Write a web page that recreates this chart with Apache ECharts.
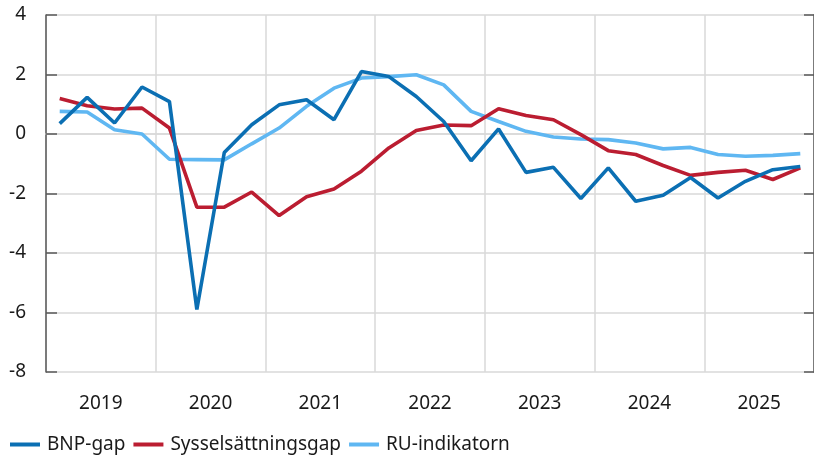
<!DOCTYPE html>
<html>
<head>
<meta charset="utf-8">
<script src="https://cdn.jsdelivr.net/npm/echarts@6/dist/echarts.min.js"></script>
<style>
  html, body { margin: 0; padding: 0; background: #fff; }
  #chart { width: 814px; height: 458px; }
</style>
</head>
<body>
<div id="chart"></div>
<script>
// years on the axis, quarters for the data
const years = ['2019', '2020', '2021', '2022', '2023', '2024', '2025'];
const quarters = [];
years.forEach(y => { for (let q = 1; q <= 4; q++) quarters.push(y + 'K' + q); });

const bnpGap = [0.35, 1.23, 0.37, 1.58, 1.09, -5.9, -0.62, 0.31, 0.98, 1.15, 0.48, 2.1,
  1.93, 1.26, 0.42, -0.9, 0.17, -1.29, -1.12, -2.17, -1.14, -2.26, -2.06, -1.46,
  -2.15, -1.59, -1.2, -1.09];
const sysselGap = [1.19, 0.95, 0.84, 0.87, 0.2, -2.46, -2.46, -1.95, -2.74, -2.11, -1.85, -1.25,
  -0.47, 0.12, 0.3, 0.28, 0.85, 0.62, 0.48, -0.02, -0.56, -0.69, -1.06, -1.39,
  -1.29, -1.22, -1.53, -1.14];
const ruIndikator = [0.76, 0.74, 0.14, 0.0, -0.85, -0.86, -0.87, -0.33, 0.2, 0.93, 1.54, 1.88,
  1.93, 1.99, 1.65, 0.76, 0.42, 0.09, -0.1, -0.17, -0.19, -0.3, -0.5, -0.45,
  -0.69, -0.75, -0.72, -0.66];

const yTicks = [-8, -6, -4, -2, 0, 2, 4];

const font = '"Noto Sans", sans-serif';
const textColor = '#1a1a1a';
const gridColor = '#d9d9d9';
const axisColor = '#595959';

const chart = echarts.init(document.getElementById('chart'));
chart.setOption({
  animation: false,
  textStyle: { fontFamily: font },
  grid: { left: 46, right: -4, top: 15, bottom: 86 },
  legend: {
    left: 10,
    top: 435,
    padding: 0,
    icon: 'rect',
    itemWidth: 30,
    itemHeight: 4,
    itemGap: 8,
    textStyle: { fontSize: 19, color: textColor, fontFamily: font, padding: [0, 0, 0, 2] },
    data: ['BNP-gap', 'Sysselsättningsgap', 'RU-indikatorn']
  },
  xAxis: [
    {
      type: 'category',
      data: years,
      position: 'bottom',
      boundaryGap: true,
      axisLine: { show: true, lineStyle: { color: gridColor, width: 1.5 } },
      axisTick: { show: false },
      axisLabel: { fontSize: 19, color: textColor, margin: 22, fontFamily: font },
      splitLine: { show: true, interval: 0, lineStyle: { color: gridColor, width: 1.5 } }
    },
    {
      type: 'category',
      data: quarters,
      position: 'bottom',
      boundaryGap: true,
      show: false
    }
  ],
  yAxis: [
    {
      type: 'value',
      min: yTicks[0],
      max: yTicks[yTicks.length - 1],
      interval: 2,
      axisLine: { show: true, lineStyle: { color: axisColor, width: 1.5 } },
      axisTick: { show: true, inside: true, length: 11, lineStyle: { color: axisColor, width: 1.5 } },
      axisLabel: { fontSize: 19, color: textColor, margin: 20, fontFamily: font },
      splitLine: { show: true, lineStyle: { color: gridColor, width: 1.5 } }
    },
    {
      type: 'value',
      position: 'right',
      min: yTicks[0],
      max: yTicks[yTicks.length - 1],
      interval: 2,
      axisLine: { show: true, lineStyle: { color: axisColor, width: 1.5 } },
      axisTick: { show: true, inside: true, length: 10, lineStyle: { color: axisColor, width: 1.5 } },
      axisLabel: { show: false },
      splitLine: { show: false }
    }
  ],
  series: [
    {
      name: 'BNP-gap', type: 'line', xAxisIndex: 1, yAxisIndex: 0,
      data: bnpGap, showSymbol: false, z: 4,
      color: '#0b6fb3', lineStyle: { width: 3.6, color: '#0b6fb3' }
    },
    {
      name: 'Sysselsättningsgap', type: 'line', xAxisIndex: 1, yAxisIndex: 0,
      data: sysselGap, showSymbol: false, z: 3,
      color: '#bb1d31', lineStyle: { width: 3.6, color: '#bb1d31' }
    },
    {
      name: 'RU-indikatorn', type: 'line', xAxisIndex: 1, yAxisIndex: 0,
      data: ruIndikator, showSymbol: false, z: 2,
      color: '#5fb7f2', lineStyle: { width: 3.6, color: '#5fb7f2' }
    }
  ]
});
</script>
</body>
</html>
